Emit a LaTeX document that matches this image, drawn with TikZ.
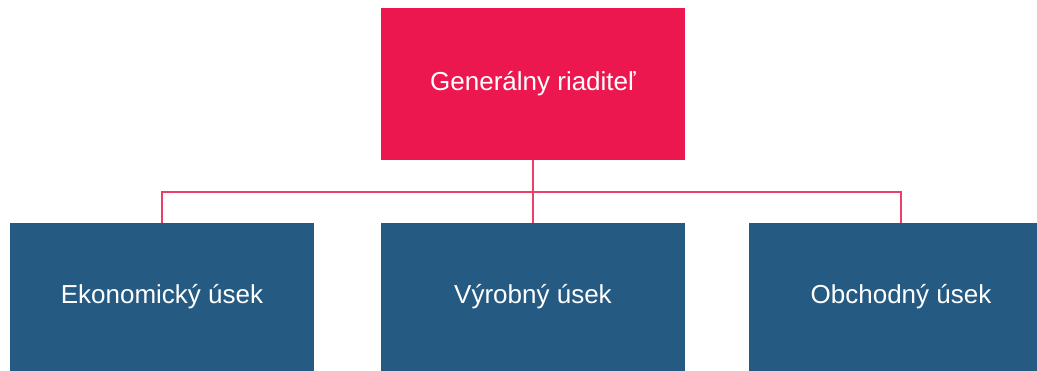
\documentclass[tikz,border=0pt]{standalone}
\usepackage{fontspec}
\setmainfont{Liberation Sans}
\definecolor{boss}{HTML}{EC174F}
\definecolor{dept}{HTML}{255A82}
\definecolor{link}{HTML}{EE3D6A}
\begin{document}
\begin{tikzpicture}[x=1pt,y=-1pt,
  box/.style={minimum width=304pt,minimum height=152pt,inner sep=0pt,text=white,
    font=\fontsize{26}{30}\selectfont},
  bossbox/.style={box,fill=boss},
  deptbox/.style={box,fill=dept,minimum height=148pt},
  conn/.style={draw=link,line width=1.8pt}]
\useasboundingbox (0,0) rectangle (1037,371);
\fill[white] (0,0) rectangle (1037,371);
\node[bossbox] (gr) at (533,84) {Generálny riaditeľ};
\node[deptbox] (eko) at (162,297) {Ekonomický úsek};
\node[deptbox] (vyr) at (533,297) {Výrobný úsek};
\node[deptbox] (obc) at (901,297) {Obchodný úsek};
\coordinate (j) at (533,192);
\draw[conn] (gr.south) -- (j);
\draw[conn] (j) -| (eko.north);
\draw[conn] (j) -| (obc.north);
\draw[conn] (j) -- (vyr.north);
\end{tikzpicture}
\end{document}
